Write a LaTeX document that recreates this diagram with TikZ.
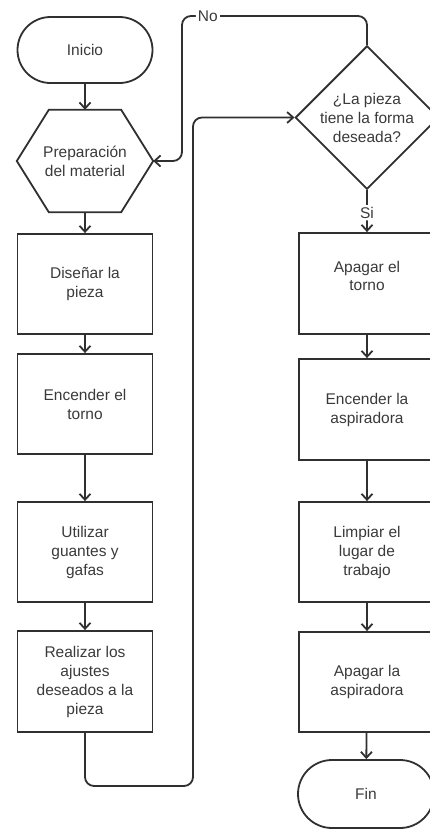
\documentclass[tikz,border=0pt]{standalone}
\usepackage{fontspec}
\setmainfont{Liberation Sans}
\usetikzlibrary{shapes.geometric,arrows.meta,calc}
\definecolor{ln}{HTML}{303030}
\definecolor{tx}{HTML}{3A3A3A}
\tikzset{
  txt/.style={text=tx,font=\fontsize{15.5}{19}\selectfont,align=center,inner sep=0pt},
  box/.style={txt,draw=ln,line width=1.8pt,rectangle,minimum width=135pt,minimum height=100pt},
  term/.style={txt,draw=ln,line width=1.8pt,rectangle,rounded corners=33pt,minimum width=135pt,minimum height=66pt},
  dec/.style={txt,draw=ln,line width=1.8pt,diamond,minimum width=134pt,minimum height=131pt},
  hexa/.style={txt,minimum width=136pt,minimum height=102pt},
  conn/.style={draw=ln,line width=1.8pt,-{Straight Barb[length=6pt,width=11pt]},rounded corners=9pt},
  lbl/.style={text=tx,font=\fontsize{15.5}{19}\selectfont,fill=white,inner sep=2pt}
}
\begin{document}
\begin{tikzpicture}[x=1pt,y=-1pt]
\useasboundingbox (0,0) rectangle (429,833);
% left column
\node[term] (inicio) at (85,50) {Inicio};
\node[hexa] (prep) at (85,161) {Preparación\\del material};
\draw[ln,line width=1.8pt,line join=miter] (prep.west) -- ($(prep.north west)+(32,0)$) -- ($(prep.north east)+(-32,0)$) -- (prep.east) -- ($(prep.south east)+(-32,0)$) -- ($(prep.south west)+(32,0)$) -- cycle;
\node[box] (disenar) at (85,284) {Diseñar la\\pieza};
\node[box] (encender) at (85,404) {Encender el\\torno};
\node[box] (utilizar) at (85,552) {Utilizar\\guantes y\\gafas};
\node[box,minimum height=101pt] (realizar) at (85,681.5) {Realizar los\\ajustes\\deseados a la\\pieza};
% right column
\node[dec] (decision) at (367,117.5) {¿La pieza\\tiene la forma\\deseada?};
\node[box,minimum width=136pt,minimum height=101pt] (apagar) at (367,283.5) {Apagar el\\[-1pt]torno\\[-4pt]\mbox{}};
\node[box,minimum width=136pt,minimum height=101pt] (aspira) at (367,409.5) {Encender la\\aspiradora};
\node[box,minimum width=136pt] (limpiar) at (367,552) {Limpiar el\\lugar de\\trabajo};
\node[box,minimum width=136pt] (apagaasp) at (367,682) {Apagar la\\aspiradora};
\node[term,minimum width=136pt,minimum height=68pt,rounded corners=34pt] (fin) at (366,794) {Fin};
% connectors left
\draw[conn] (inicio) -- (prep.north);
\draw[conn] (prep.south) -- (disenar);
\draw[conn] (disenar) -- (encender);
\draw[conn] (encender) -- (utilizar);
\draw[conn] (utilizar) -- (realizar);
% loop to decision
\coordinate (r1) at (85,786);
\coordinate (r2) at (193,786);
\coordinate (r3) at (193,117.5);
\draw[conn] (realizar.south) -- (r1) -- (r2) -- (r3) -- (decision.west);
% No loop
\coordinate (n1) at (367,16);
\coordinate (n2) at (182,16);
\coordinate (n3) at (182,161);
\draw[conn] (decision.north) -- (n1) -- node[lbl,pos=0.86]{No} (n2) -- (n3) -- (prep.east);
% right column connectors
\draw[conn] (decision.south) -- node[lbl,pos=0.54]{Si} (apagar);
\draw[conn] (apagar) -- (aspira);
\draw[conn] (aspira) -- (limpiar);
\draw[conn] (limpiar) -- (apagaasp);
\draw[conn] (apagaasp) -- (fin);
\end{tikzpicture}
\end{document}
